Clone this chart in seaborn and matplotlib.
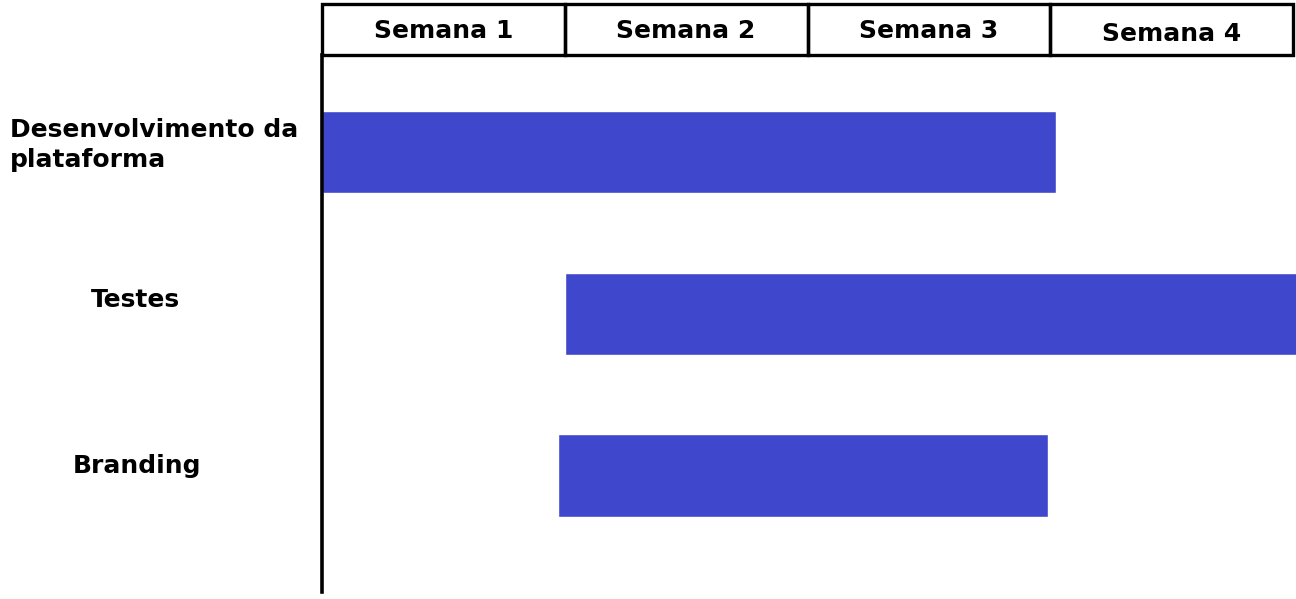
import matplotlib
matplotlib.use("Agg")
import matplotlib.pyplot as plt
import seaborn as sns

# cronograma (em semanas)
tarefas = ["Desenvolvimento da\nplataforma", "Testes", "Branding"]
inicio = [0.0, 1.0, 0.97]
fim = [3.02, 4.02, 2.99]
semanas = ["Semana 1", "Semana 2", "Semana 3", "Semana 4"]

sns.set_style("white")
plt.rcParams["font.family"] = ["DejaVu Sans"]
plt.rcParams["text.color"] = "black"

W, H = 1296, 599
fig = plt.figure(figsize=(W / 100, H / 100), dpi=100)
cor = "#3F48CC"

# area do grafico
ax = fig.add_axes([322 / W, (H - 592) / H, (W - 322) / W, (592 - 55) / H])
duracao = [f - i for i, f in zip(inicio, fim)]
ax.barh(range(len(tarefas)), duracao, left=inicio, height=0.51, color=cor)
ax.set_xlim(0, 4.01)
ax.set_ylim(2.72, -0.6)
ax.set_xticks([])
ax.set_yticks([])
for s in ["top", "right", "bottom"]:
    ax.spines[s].set_visible(False)
ax.spines["left"].set_linewidth(2.6)
ax.spines["left"].set_color("black")

# rotulos das tarefas
fig.text(10 / W, 1 - 145 / H, tarefas[0], ha="left", va="center",
         fontsize=18, fontweight="bold", linespacing=1.35)
fig.text(135 / W, 1 - 300 / H, tarefas[1], ha="center", va="center",
         fontsize=18, fontweight="bold")
fig.text(137 / W, 1 - 466 / H, tarefas[2], ha="center", va="center",
         fontsize=18, fontweight="bold")

# cabecalho com as semanas
hx = fig.add_axes([322 / W, (H - 55) / H, (1293 - 322) / W, (55 - 4) / H])
hx.set_xlim(0, len(semanas))
hx.set_ylim(0, 1)
hx.axis("off")
for k, nome in enumerate(semanas):
    hx.add_patch(plt.Rectangle((k, 0), 1, 1, fill=False, edgecolor="black",
                               linewidth=2.4, clip_on=False))
    hx.text(k + 0.5, 0.48 if k < 3 else 0.42, nome, ha="center", va="center",
            fontsize=18, fontweight="bold")

fig.savefig("out.png", dpi=100)
